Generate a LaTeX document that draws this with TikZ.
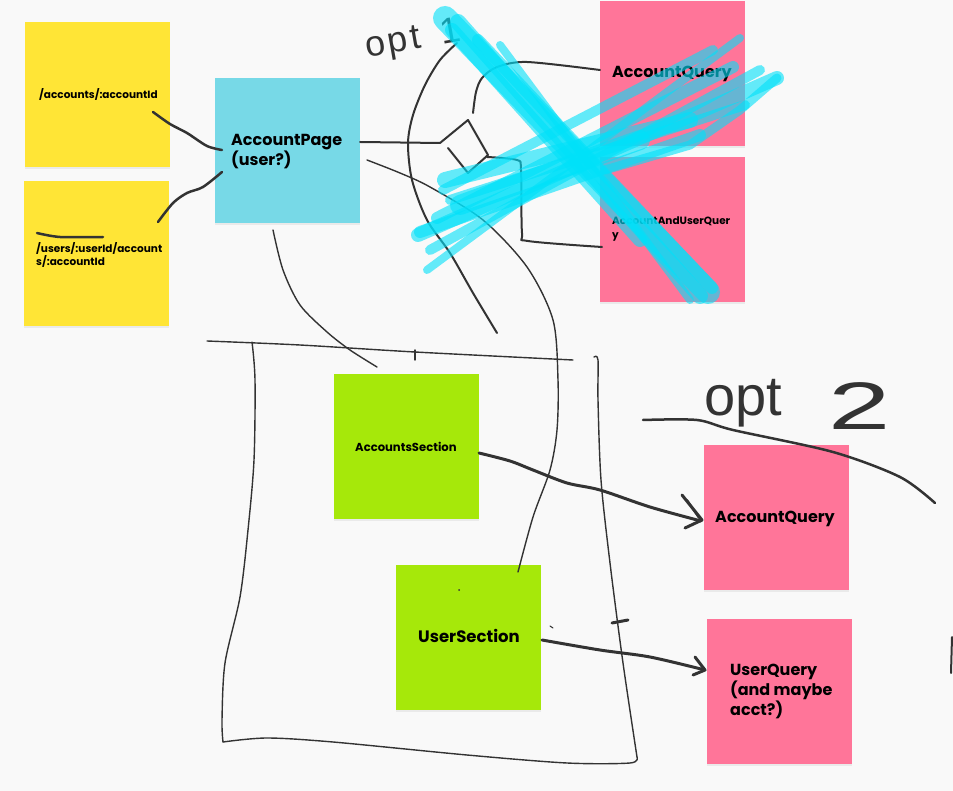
\documentclass[tikz,border=0pt]{standalone}
\usepackage{fontspec}
\newfontfamily\notefont{Poppins}
\newfontfamily\handfont{Liberation Sans}
\usetikzlibrary{shadows}
\definecolor{bg}{HTML}{F9F9F9}
\definecolor{stickyY}{HTML}{FFE536}
\definecolor{stickyB}{HTML}{77D9E7}
\definecolor{stickyP}{HTML}{FF7599}
\definecolor{stickyG}{HTML}{A6E80A}
\definecolor{ink}{HTML}{333333}
\definecolor{scrib}{RGB}{0,225,250}
\begin{document}
\begin{tikzpicture}[x=1pt,y=-1pt,
  note/.style={rectangle,draw=none,minimum width=145pt,minimum height=145pt,inner sep=0pt,anchor=north west,
     drop shadow={shadow xshift=0pt,shadow yshift=-1.5pt,opacity=0.12}},
  lbl/.style={inner sep=0pt,anchor=north west,align=left,text=black},
  small/.style={lbl,font=\notefont\bfseries\fontsize{10.5}{13.5}\selectfont},
  big/.style={lbl,font=\notefont\bfseries\fontsize{16}{20}\selectfont},
  pen/.style={draw=ink,line width=1.4pt,line cap=round,line join=round},
  penm/.style={draw=ink,line width=2pt,line cap=round,line join=round},
  penb/.style={draw=ink,line width=3pt,line cap=round,line join=round},
  hand/.style={inner sep=0pt,text=ink,anchor=base west},
  cyanstroke/.style={draw=scrib,opacity=0.6,line cap=round,line join=round}
]
\useasboundingbox (0,0) rectangle (953,791);
\fill[bg] (0,0) rectangle (953,791);

% sticky notes
\node[note,fill=stickyY] (y1) at (25,22) {};
\node[note,fill=stickyY] (y2) at (24,181) {};
\node[note,fill=stickyB] (pg) at (215,78) {};
\node[note,fill=stickyP] (q1) at (600,1) {};
\node[note,fill=stickyP] (q2) at (600,157) {};
\node[note,fill=stickyG] (s1) at (334,374) {};
\node[note,fill=stickyG] (s2) at (396,565) {};
\node[note,fill=stickyP] (q3) at (704,445) {};
\node[note,fill=stickyP] (q4) at (707,619) {};

% texts
\node[small] (t1) at (39,88) {/accounts/:accountId};
\node[small] (t2) at (36,242) {/users/:userId/account\\s/:accountId};
\node[big] (t3) at (231,134) {AccountPage\\(user?)};
\node[big] (t4) at (612,66) {AccountQuery};
\node[small] (t5) at (612,217) {AccountAndUserQuer\\y};
\node[lbl,font=\notefont\bfseries\fontsize{11.6}{14}\selectfont] (t6) at (355,442) {AccountsSection};
\node[lbl,font=\notefont\bfseries\fontsize{16.5}{20}\selectfont] (t7) at (418,629) {UserSection};
\node[big] (t8) at (715,511) {AccountQuery};
\node[big] (t9) at (730,664) {UserQuery\\(and maybe\\acct?)};

% handwritten labels
\node[hand,rotate=10,font=\handfont\fontsize{36}{36}\selectfont] (h1) at (367,58) {o\kern3pt p\kern3pt t\kern20pt 1};
\node[hand,font=\handfont\fontsize{56}{56}\selectfont] (h2) at (704,415) {opt\kern46pt\raisebox{-14pt}{\scalebox{2}[1.2]{2}}};

% strike mark above users path
\draw[penb,line width=2.5pt] plot[smooth] coordinates {(37,233) (60,237) (103,237)};

% connectors from routes to page
\draw[penb,line width=2.5pt] plot[smooth] coordinates {(153,112) (170,124) (187,133) (207,146) (222,150)};
\draw[penb,line width=2.5pt] plot[smooth] coordinates {(158,222) (173,203) (187,193) (203,187) (222,172)};

% page down to the section box
\draw[pen] plot[smooth] coordinates {(273,230) (283,270) (300,305) (327,332) (350,350) (377,367)};

% page to opt 1 queries
\draw[penm] (360,142) -- (440,143) -- (468,120) -- (488,155) -- (468,173) -- (448,148);
\draw[penm] plot[smooth] coordinates {(487,157) (517,160) (521,170) (522,233) (528,241) (602,247)};
\draw[penm] plot[smooth] coordinates {(473,113) (476,92) (482,78) (497,67) (527,62) (600,70)};
\draw[penm] plot[smooth] coordinates {(457,43) (440,60) (425,85) (413,115) (408,143) (412,180) (427,220) (450,253) (473,293) (497,333)};
\draw[pen] plot[smooth] coordinates {(367,160) (400,173) (430,187) (483,220) (527,267) (553,320) (558,380) (557,430) (550,470) (533,517) (518,572)};

% section box
\draw[pen] plot[smooth] coordinates {(207,341) (300,345) (415,352) (573,360)};
\draw[pen] (415,350) -- (415,360);
\draw[pen] plot[smooth] coordinates {(252,342) (255,380) (254,460) (248,530) (240,597) (225,663) (222,720) (223,742)};
\draw[pen] plot[smooth] coordinates {(223,742) (267,738) (333,742) (467,755) (567,763) (630,763) (637,757)};
\draw[pen] plot[smooth] coordinates {(637,757) (623,663) (610,563) (601,480) (598,400) (598,360) (594,357)};
\draw[penb] (612,623) -- (628,620);
\draw[pen,line width=1pt] (550,626) -- (553,628);
\fill[ink] (459,590) circle (1pt);

% arrows to opt 2 queries
\draw[penb] plot[smooth] coordinates {(479,453) (510,461) (533,470) (567,483) (600,490) (650,507) (701,521)};
\draw[penb] (682,495) -- (702,520) -- (685,528);
\draw[penm] (687,500) -- (699,518);
\draw[penb] plot[smooth] coordinates {(542,640) (600,650) (650,657) (705,670)};
\draw[penb] (695,657) -- (705,670) -- (693,675);

% opt 2 divider
\draw[penb,line width=2.5pt] plot[smooth] coordinates {(643,420) (697,420) (733,430) (833,452) (900,477) (935,503)};
\draw[penm] (952,637) -- (951,673);

% cyan cross-out
\draw[cyanstroke,line width=24pt] (445,18) -- (708,292);
\draw[cyanstroke,line width=16pt] (458,22) -- (700,296);
\draw[cyanstroke,line width=12pt] (478,40) -- (712,288);
\draw[cyanstroke,line width=14pt] (452,30) -- (640,240);
\draw[cyanstroke,line width=8pt] (500,45) -- (690,300);
\draw[cyanstroke,line width=8pt] (427,270) -- (740,38);
\draw[cyanstroke,line width=14pt] (418,235) -- (777,78);
\draw[cyanstroke,line width=10pt] (443,190) -- (713,50);
\draw[cyanstroke,line width=12pt] (437,218) -- (733,67);
\draw[cyanstroke,line width=10pt] (430,250) -- (760,70);
\draw[cyanstroke,line width=10pt] (450,200) -- (745,105);
\draw[cyanstroke,line width=9pt] (777,78) -- (740,110) -- (690,145) -- (605,170);
\draw[cyanstroke,line width=12pt] (420,232) -- (700,135);
\draw[cyanstroke,line width=16pt] (445,180) -- (690,120);
\draw[cyanstroke,line width=20pt] (460,205) -- (640,140);
\end{tikzpicture}
\end{document}
